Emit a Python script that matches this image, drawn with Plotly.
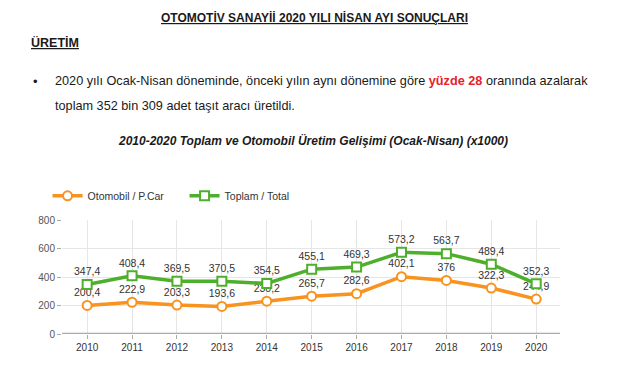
import plotly.graph_objects as go

years = [2010, 2011, 2012, 2013, 2014, 2015, 2016, 2017, 2018, 2019, 2020]
otomobil = [200.4, 222.9, 203.3, 193.6, 230.2, 265.7, 282.6, 402.1, 376, 322.3, 244.9]
toplam = [347.4, 408.4, 369.5, 370.5, 354.5, 455.1, 469.3, 573.2, 563.7, 489.4, 352.3]
y_ticks = [0, 200, 400, 600, 800]

ORANGE = "#F7931E"
GREEN = "#4DAF2C"

def fmt(v):
    return ("%g" % v).replace(".", ",")

label_font = dict(family="Liberation Sans, Arial", size=10.5, color="#333")

fig = go.Figure()
fig.add_trace(go.Scatter(
    x=years, y=otomobil, name="Otomobil / P.Car", mode="lines+markers+text",
    line=dict(color=ORANGE, width=3.5),
    marker=dict(symbol="circle", size=9, color="white", line=dict(color=ORANGE, width=2)),
    text=[fmt(v) for v in otomobil], textposition="top center",
    textfont=label_font, cliponaxis=False,
))
fig.add_trace(go.Scatter(
    x=years, y=toplam, name="Toplam / Total", mode="lines+markers+text",
    line=dict(color=GREEN, width=3.5),
    marker=dict(symbol="square", size=9, color="white", line=dict(color=GREEN, width=2)),
    text=[fmt(v) for v in toplam], textposition="top center",
    textfont=label_font, cliponaxis=False,
))

L, R, T, B = 62, 60, 220, 56
fig.update_layout(
    width=620, height=390,
    margin=dict(l=L, r=R, t=T, b=B),
    paper_bgcolor="white", plot_bgcolor="white",
    font=dict(family="Liberation Sans, Arial", color="#333"),
    showlegend=True,
    legend=dict(orientation="h", x=-0.029, y=1.085, xanchor="left", yanchor="bottom",
                font=dict(size=10.5, color="#333"), entrywidth=92, itemwidth=30,
                bgcolor="rgba(0,0,0,0)"),
    xaxis=dict(range=[2009.44, 2020.53], tickmode="array", tickvals=years,
               ticktext=[str(y) for y in years], showgrid=True, gridcolor="#e6e6e6",
               zeroline=False, showline=False, ticks="outside", ticklen=4, tickcolor="#aaa",
               tickfont=dict(size=10, color="#333")),
    yaxis=dict(range=[0, 800], tickvals=y_ticks, showgrid=True, gridcolor="#e6e6e6",
               zeroline=False, showline=False, ticks="outside", ticklen=4, tickcolor="#aaa",
               tickfont=dict(size=10, color="#555")),
)
fig.add_shape(type="line", xref="paper", yref="y", x0=0, x1=1, y0=0, y1=0,
              line=dict(color="#aaaaaa", width=2.5))

body = "Liberation Sans, Arial"
annots = [
    dict(x=314, y=18, xanchor="center", text="<b><u>OTOMOTİV SANAYİİ 2020 YILI NİSAN AYI SONUÇLARI</u></b>", size=12),
    dict(x=29, y=42, xanchor="left", text="<b><u>ÜRETİM</u></b>", size=12.5),
    dict(x=31, y=81, xanchor="left", text="•", size=13),
    dict(x=53, y=81, xanchor="left",
         text="2020 yılı Ocak-Nisan döneminde, önceki yılın aynı dönemine göre <b><span style='color:#E8202A'>yüzde 28</span></b> oranında azalarak", size=12.7),
    dict(x=53, y=106, xanchor="left", text="toplam 352 bin 309 adet taşıt aracı üretildi.", size=12.7),
    dict(x=313, y=140, xanchor="center",
         text="<b><i>2010-2020 Toplam ve Otomobil Üretim Gelişimi (Ocak-Nisan) (x1000)</i></b>", size=12),
]
for a in annots:
    fig.add_annotation(
        xref="paper", yref="paper",
        x=(a["x"] - L) / (620 - L - R), y=(390 - B - a["y"]) / (390 - T - B),
        xanchor=a["xanchor"], yanchor="middle", text=a["text"], showarrow=False,
        font=dict(family=body, size=a["size"], color="#1a1a1a"),
    )

fig.write_html("out.html", config={"displayModeBar": False},
               post_script="document.body.style.margin='0';document.body.style.padding='0';")
